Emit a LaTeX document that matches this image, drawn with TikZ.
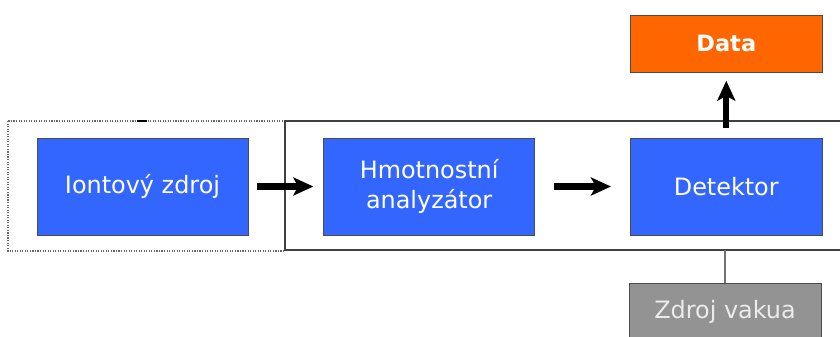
\documentclass[tikz,border=0pt]{standalone}
\usepackage{fontspec}
\setmainfont{DejaVu Sans}
\usepackage{tikz}
\usetikzlibrary{arrows.meta,positioning}

\definecolor{unitblue}{HTML}{3366FF}
\definecolor{dataorange}{HTML}{FF6600}
\definecolor{pumpgray}{HTML}{939393}

\begin{document}
\begin{tikzpicture}[x=0.025cm, y=-0.025cm, >={Stealth[length=0.5cm,width=0.45cm,inset=0.12cm]},
  node distance=1.875cm]

\tikzstyle{unit}=[draw=black!70, fill=unitblue, text=white, minimum width=5.275cm,
  minimum height=2.425cm, inner sep=0pt, align=center, font=\fontsize{17}{21}\selectfont]
\tikzstyle{flow}=[->, line width=4.3pt]

\useasboundingbox (0,0) rectangle (840,336);

% vacuum chamber and ion source housing
\draw[black!60, densely dotted, thick] (8,121) rectangle (285,251);
\draw[black!75, thick] (850,121) -- (285,121) -- (285,250) -- (850,250);
\draw[line width=2pt] (137,121) -- (147,121);
\coordinate (floor) at (725,250);

\node[unit] (Ion) at (142.5,186.5) {Iontový zdroj};
\node[unit] (Mass)[right=of Ion] {Hmotnostní\\analyzátor};
\node[unit, minimum width=4.8cm] (Det)[right=2.375cm of Mass] {Detektor};
\node[unit, fill=dataorange, minimum width=4.8cm, minimum height=1.425cm,
  font=\fontsize{16}{20}\selectfont\bfseries] (Data)[above=1.625cm of Det] {Data};
\node[unit, fill=pumpgray, text=black!8, minimum width=4.8cm, minimum height=1.425cm,
  anchor=north] (Vac) at (725,283) {Zdroj vakua};

% beam path
\draw[flow] ([xshift=0.225cm]Ion.east) -- ([xshift=-0.25cm]Mass.west);
\draw[flow] ([xshift=0.475cm]Mass.east) -- ([xshift=-0.475cm]Det.west);
\draw[flow] ([yshift=0.25cm]Det.north) -- ([yshift=-0.2cm]Data.south);
\draw[black!55, thick] (Vac) -- (floor);
\end{tikzpicture}
\end{document}
